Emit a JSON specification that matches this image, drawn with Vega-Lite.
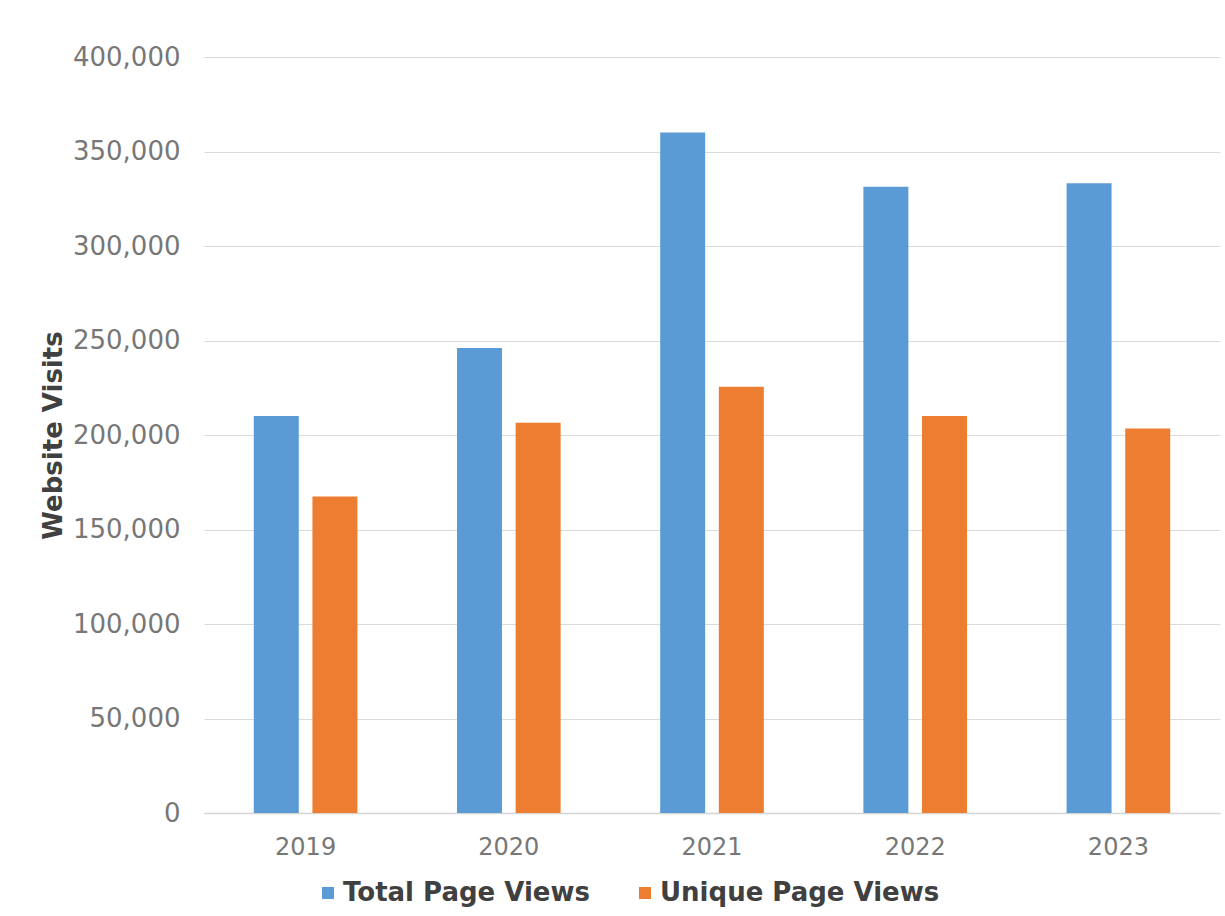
{
  "$schema": "https://vega.github.io/schema/vega-lite/v6.json",
  "autosize": {"type": "none"},
  "width": 1016,
  "height": 756,
  "padding": {"left": 204, "top": 57, "right": 5, "bottom": 103},
  "background": "#ffffff",
  "data": {
    "values": [
      {"year": "2019", "series": "Total Page Views", "visits": 210000},
      {"year": "2019", "series": "Unique Page Views", "visits": 167500},
      {"year": "2020", "series": "Total Page Views", "visits": 246000},
      {"year": "2020", "series": "Unique Page Views", "visits": 206500},
      {"year": "2021", "series": "Total Page Views", "visits": 360000},
      {"year": "2021", "series": "Unique Page Views", "visits": 225500},
      {"year": "2022", "series": "Total Page Views", "visits": 331300},
      {"year": "2022", "series": "Unique Page Views", "visits": 210000},
      {"year": "2023", "series": "Total Page Views", "visits": 333200},
      {"year": "2023", "series": "Unique Page Views", "visits": 203500}
    ]
  },
  "mark": {"type": "bar"},
  "encoding": {
    "x": {
      "field": "year",
      "type": "nominal",
      "scale": {"paddingInner": 0.49, "paddingOuter": 0.245},
      "axis": {
        "title": null,
        "labelAngle": 0,
        "labelFont": "DejaVu Sans",
        "labelFontSize": 24,
        "labelColor": "#777777",
        "labelPadding": 22,
        "ticks": false,
        "tickSize": 0,
        "domainColor": "#d4d4d4",
        "domainWidth": 1.5,
        "grid": false
      }
    },
    "xOffset": {
      "field": "series",
      "type": "nominal",
      "scale": {"paddingInner": 0.233, "paddingOuter": 0}
    },
    "y": {
      "field": "visits",
      "type": "quantitative",
      "scale": {"domain": [0, 400000], "nice": false},
      "axis": {
        "title": "Website Visits",
        "titleFont": "DejaVu Sans",
        "titleFontSize": 26,
        "titleFontWeight": "bold",
        "titleColor": "#404040",
        "titlePadding": 6,
        "values": [0, 50000, 100000, 150000, 200000, 250000, 300000, 350000, 400000],
        "format": ",d",
        "labelFont": "DejaVu Sans",
        "labelFontSize": 26,
        "labelColor": "#777777",
        "labelPadding": 24,
        "ticks": false,
        "tickSize": 0,
        "domain": false,
        "grid": true,
        "gridColor": "#dadada",
        "gridWidth": 1
      }
    },
    "color": {
      "field": "series",
      "type": "nominal",
      "scale": {
        "domain": ["Total Page Views", "Unique Page Views"],
        "range": ["#5b9bd5", "#ed7d31"]
      },
      "legend": {
        "title": null,
        "orient": "none",
        "direction": "horizontal",
        "legendX": 111,
        "legendY": 823,
        "symbolType": "square",
        "symbolSize": 144,
        "symbolStrokeWidth": 0,
        "labelFont": "DejaVu Sans",
        "labelFontSize": 26,
        "labelFontWeight": "bold",
        "labelColor": "#404040",
        "labelLimit": 500,
        "labelOffset": 2,
        "columnPadding": 42
      }
    }
  },
  "config": {
    "view": {"stroke": null}
  }
}
